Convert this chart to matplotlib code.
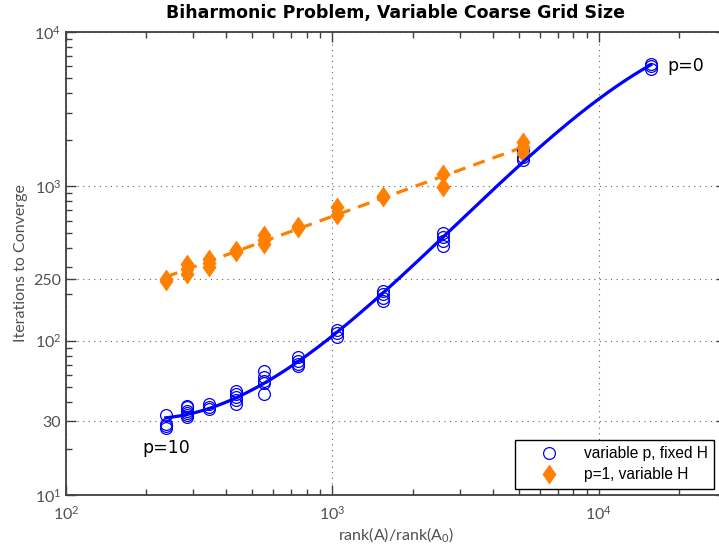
import numpy as np
import matplotlib
matplotlib.use('Agg')
import matplotlib.pyplot as plt
from matplotlib.path import Path

plt.rcParams['font.family'] = ['Lato', 'DejaVu Sans']
plt.rcParams['mathtext.fontset'] = 'custom'
plt.rcParams['mathtext.rm'] = 'Lato'
plt.rcParams['mathtext.it'] = 'Lato:italic'

# rank(A)/rank(A0) for each coarse grid
rank_ratio = [237, 284, 345, 434, 555, 745, 1042, 1554, 2594, 5200, 15670]

# iterations to converge, variable p and fixed H (several runs per grid)
iters_var_p = [
    [33, 29, 28, 27],
    [38, 37, 35, 34, 33, 32],
    [39, 37, 36],
    [47, 45, 43, 41, 39],
    [64, 58, 55, 53, 45],
    [78, 74, 71, 69],
    [117, 112, 106],
    [210, 200, 190, 180],
    [500, 470, 440, 410],
    [1700, 1550, 1480],
    [6200, 6000, 5800],
]

# iterations to converge, p=1 and variable H
iters_var_H = [
    [250, 245],
    [315, 290, 272],
    [340, 318, 301],
    [385, 375],
    [482, 450, 426],
    [552, 540],
    [736, 650],
    [870, 850],
    [1200, 995],
    [1940, 1800, 1640],
]

ytick_vals = [10, 30, 100, 250, 1000, 10000]
ytick_text = ['$10^{1}$', '30', '$10^{2}$', '250', '$10^{3}$', '$10^{4}$']
xtick_vals = [100, 1000, 10000]
xtick_text = ['$10^{2}$', '$10^{3}$', '$10^{4}$']

BLUE = '#0000ff'
ORANGE = '#ff8000'
GREY = '#505050'


def flatten(xs, groups):
    x = np.repeat(xs[:len(groups)], [len(g) for g in groups])
    y = np.concatenate([np.asarray(g, float) for g in groups])
    return x, y


def loglog_fit(x, y, deg):
    lx, ly = np.log10(x), np.log10(y)
    c = np.polyfit(lx, ly, deg)
    xx = np.linspace(lx.min(), lx.max(), 300)
    return 10 ** xx, 10 ** np.polyval(c, xx)


xp, yp = flatten(np.array(rank_ratio, float), iters_var_p)
xh, yh = flatten(np.array(rank_ratio, float), iters_var_H)

diamond = Path([(0, 1), (0.7, 0), (0, -1), (-0.7, 0), (0, 1)],
               [Path.MOVETO, Path.LINETO, Path.LINETO, Path.LINETO, Path.CLOSEPOLY])

fig = plt.figure(figsize=(7.19, 5.49), dpi=100)
# x range 1e2..3e4 at ~266 px per decade; right spine falls just off the picture
ax = fig.add_axes([66 / 719, 1 - 495 / 549, 660 / 719, 463 / 549])

ax.plot(xp, yp, linestyle='none', marker='o', ms=8.5, mfc='none', mec=BLUE,
        mew=0.9, label='variable p, fixed H', zorder=3)
ax.plot(xh, yh, linestyle='none', marker=diamond, ms=13.5, mfc=ORANGE, mec=ORANGE,
        mew=0.5, label='p=1, variable H', zorder=3)

fx, fy = loglog_fit(xp, yp, 3)
ax.plot(fx, fy, color=BLUE, lw=2.3, zorder=4)
gx, gy = loglog_fit(xh, yh, 1)
ax.plot(gx, gy, color=ORANGE, lw=2.3, dashes=(3.8, 2.6), zorder=2)

ax.set_xscale('log')
ax.set_yscale('log')
ax.set_xlim(100, 3e4)
ax.set_ylim(10, 10000)

ax.set_yticks(ytick_vals)
ax.set_yticklabels(ytick_text)
ax.set_xticks(xtick_vals)
ax.set_xticklabels(xtick_text)
ax.tick_params(which='both', direction='in', top=True, right=True, colors='#404040',
               labelcolor=GREY, labelsize=11.5)
ax.tick_params(which='major', length=7, width=1)
ax.tick_params(which='minor', length=4.5, width=1)
ax.tick_params(axis='x', pad=7)
ax.grid(True, which='major', linestyle=(0, (1, 4)), color='#606060', lw=0.8)
for s in ax.spines.values():
    s.set_color('#404040')
    s.set_linewidth(1.3)

ax.set_title('Biharmonic Problem, Variable Coarse Grid Size', fontsize=12.5,
             fontweight='bold', family=['DejaVu Sans'], pad=10)
ax.set_ylabel('Iterations to Converge', color=GREY, fontsize=11.5, labelpad=4)
ax.set_xlabel('rank(A)/rank(A$_0$)', color=GREY, fontsize=11.5, labelpad=2)

ax.annotate('p=0', xy=(rank_ratio[-1], np.mean(iters_var_p[-1])), xytext=(12, 0),
            textcoords='offset points', va='center', ha='left', fontsize=12.5,
            family=['DejaVu Sans'])
ax.annotate('p=10', xy=(rank_ratio[0], np.mean(iters_var_p[0])), xytext=(0, -18),
            textcoords='offset points', va='center', ha='center', fontsize=12.5,
            family=['DejaVu Sans'])

leg = ax.legend(loc='upper left', bbox_to_anchor=(515 / 719, 1 - 440 / 549),
                bbox_transform=fig.transFigure, borderaxespad=0, fancybox=False,
                edgecolor='black', framealpha=1, handlelength=3.6, handletextpad=0.45,
                borderpad=0.4, labelspacing=0.4, prop={'family': 'Liberation Sans', 'size': 11.2})
leg.get_frame().set_linewidth(1.0)

fig.savefig('out.png', dpi=100)
